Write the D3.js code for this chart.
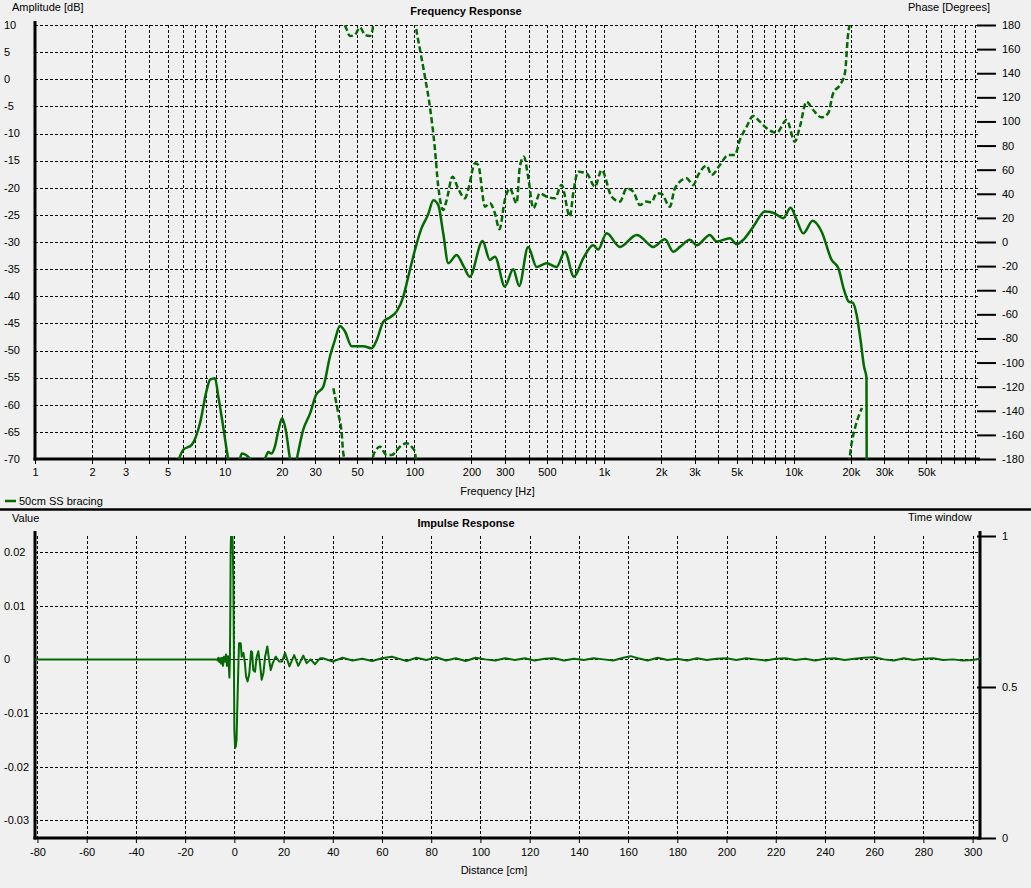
<!DOCTYPE html>
<html><head><meta charset="utf-8">
<script src="https://cdn.jsdelivr.net/npm/d3@7"></script>
<style>
body{margin:0;background:#f0f0f0;}
svg{display:block;font-family:"Liberation Sans",Arial,sans-serif;font-size:11px;}
</style></head><body>
<svg id="c" width="1031" height="888"></svg>
<script>
// ---------------- DATA ----------------
const freqTickValues = [1,2,3,5,10,20,30,50,100,200,300,500,1000,2000,3000,5000,10000,20000,30000,50000];
const freqTickLabels = ["1","2","3","5","10","20","30","50","100","200","300","500","1k","2k","3k","5k","10k","20k","30k","50k"];
const gridDecades = [1,10,100,1000,10000];
const gridMantissas = [1,2,3,4,5,6,7,8,9];
const ampTicks = [10,5,0,-5,-10,-15,-20,-25,-30,-35,-40,-45,-50,-55,-60,-65,-70];
const phaseTicks = [180,160,140,120,100,80,60,40,20,0,-20,-40,-60,-80,-100,-120,-140,-160,-180];

const ampFreq = [5.74,6.05,6.7,7.41,8.04,8.37,8.89,9.26,9.76,10.45,11.2,11.8,12.3,13.0,13.6,14.8,16.3,17.0,17.6,18.4,19.2,20.1,21.0,22.1,23.0,24.0,25.9,28.2,30.3,33.1,35.9,38.1,40.5,43.1,46.7,53.8,59.6,63.3,68.6,74.3,80.7,87.4,92.9,100.7,109,118,126,133.7,142,151,167,182,196,229,250,266,300,332,357,398,441,498,562,622,694,777,877,932,1032,1213,1486,1546,1650,1817,2096,2317,2513,2838,3077,3615,3923,4612,5000,5420,6115,7047,7798,8805,9634,10360,11230,12590,14040,15850,17180,18410,19500,20500,21500,22500,23500,24200,24300];
const ampDb = [-70,-68.3,-67.4,-63.4,-57.3,-55.4,-55.1,-58.5,-63.4,-70,-73,-71.5,-69,-69.3,-70,-74,-70,-68.7,-69,-67.7,-64.7,-62.5,-64.7,-70,-73,-70,-64.7,-61.6,-58.2,-56.7,-51.1,-48.1,-45.5,-46.5,-49.2,-49.2,-49.6,-48.1,-44.7,-43.9,-42.8,-40.1,-36.4,-31.5,-27.5,-25,-22.3,-23.2,-28.4,-33.9,-32.4,-34.5,-36.4,-29.8,-33.3,-32.7,-38.2,-35,-38.1,-30.9,-34.6,-33.9,-34.6,-31.8,-36.4,-33,-30.6,-31.4,-28.4,-30.9,-28.7,-28.9,-29.8,-30.9,-29.5,-31.8,-30.9,-29.6,-30.6,-28.7,-29.9,-29.3,-30.4,-29.6,-27.2,-24.4,-24.6,-25.6,-23.7,-25.9,-28.4,-26.1,-28.1,-33.3,-34.8,-38.8,-41,-41.2,-43.5,-48,-53,-55,-80];

const phaseFreq = [37.4,38.5,39.7,41.4,42.2,44,45.7,48.5,51.7,55,58.3,60.3,60.8,65.9,71.4,75.9,83.9,91,97,100.7,102,107,113.7,120.8,128,133.7,142,148,159,170,185,192,209,217,236,250,266,281,300,319,346,360,378,398,424,459,498,551,597,661,688,731,809,896,971,1096,1213,1315,1426,1546,1661,1782,1893,2012,2225,2364,2724,2952,3137,3475,3692,4083,4517,4898,5200,5645,6115,6637,7200,8131,9180,10140,10780,11690,12670,14040,15200,16150,17520,18620,19380,19630,20200,21000,22900];
const phaseDeg = [-121.4,-131,-142.1,-158.7,-175.3,176.4,170.9,171.7,178,171.7,170.9,176.4,-176.7,-169.8,-176.7,-176.7,-169.8,-167,-170,-174,178.6,160,137.1,112.2,79.1,45.9,26.5,34.8,54.2,44.5,36.3,43.1,65.3,63.9,29.3,32.1,23.8,10.5,34.8,44.5,32.1,62.5,70.8,54.2,28,40.4,37.6,36.3,47.3,21,40.4,58.3,57,45.9,59.7,37.6,33.5,44.5,41.7,30.7,33.5,33,40.4,39.8,29.3,44.5,52.8,47.3,55.6,63.3,55.6,63.9,72.2,72.2,84.6,95.6,104.5,99.8,94.3,90.7,101.2,83.2,95.6,116.4,109.5,103.4,106.8,123.4,130.2,139.9,173.1,178.6,-167,-155,-137.7];

const distTicks = [-80,-60,-40,-20,0,20,40,60,80,100,120,140,160,180,200,220,240,260,280,300];
const valueTicks = [0.02,0.01,0,-0.01,-0.02,-0.03];
const valueTickLabels = ["0.02","0.01","0","-0.01","-0.02","-0.03"];
const windowTicks = [1,0.5,0];
const windowTickLabels = ["1","0.5","0"];

const impDist = [-81,-7.2,-6.8,-6.5,-6.1,-5.8,-5.4,-5.0,-4.6,-4.2,-3.8,-3.4,-3.0,-2.6,-2.3,-2.0,-1.8,-1.65,-1.5,-1.2,-0.9,-0.6,-0.4,-0.2,0.0,0.3,0.6,0.9,1.2,1.6,1.9,2.6,3.0,3.7,4.3,4.75,5.4,6.1,6.8,7.2,7.7,8.4,9.1,9.75,10.4,11.1,11.8,12.5,13.4,14.1,14.8,15.6,16.8,18.2,19.4,20.6,22.4,24.3,26,28,29.4,31,32.8,34.8,36,40,44,48,52,56,60,64,67,70,74,78,82,86,90,94,98,102,106,110,114,118,122,126,130,134,138,142,146,150,154,158,161,164,168,172,176,180,184,188,192,196,200,204,208,212,216,220,224,228,232,236,240,244,248,252,256,260,264,268,272,276,280,284,288,292,296,300,303];
const impVal = [0,0,-0.0002,0.0003,-0.0005,0.0002,-0.0008,0.0003,-0.0012,0.0005,-0.0004,0.0009,-0.0012,0.0006,-0.0006,-0.0034,0.0002,0.0083,0.0201,0.0255,0.0255,0.0200,0.0148,0.0030,-0.0131,-0.0165,-0.0162,-0.0150,-0.0091,-0.002,0.003,0.003,0.0005,0.0012,-0.0007,-0.0032,-0.0041,-0.0026,0.0015,0.0014,-0.002,-0.0023,0.0005,0.0015,-0.0007,-0.0038,-0.0026,0.0005,0.0024,0,-0.002,-0.0007,0.0005,-0.0004,-0.0004,0.0012,-0.0013,0.0008,-0.0012,0.0007,-0.0007,0,-0.0009,0.0002,0.0002,-0.0004,0.0003,-0.0002,0.0001,-0.0003,0.0002,0.0005,0.0001,-0.0003,0.0003,-0.0001,0.0004,-0.0002,0.0002,-0.0003,0.0003,0,-0.0002,0.0002,-0.0001,0.0002,-0.0002,0.0001,0.0002,-0.0002,0.0001,-0.0001,0.0002,0,-0.0002,0.0003,0.0006,0.0002,-0.0002,0.0003,-0.0001,0.0001,-0.0002,0.0002,-0.0001,0.0001,0.0002,-0.0001,0.0002,0,-0.0002,0.0001,0.0002,-0.0001,0.0001,-0.0002,0.0001,0.0002,-0.0001,0.0001,0.0003,0.0004,0,-0.0002,0.0002,-0.0001,0.0001,0.0002,-0.0001,0,-0.0002,-0.0001,0.0001];

// ---------------- CHART ----------------
const GREEN = "#006a00";
const svg = d3.select("#c");
const PL = 35, PR = 980;
const TT = 25, TB = 459;
const BT = 536, BB = 838;

const x = d3.scaleLog().domain([1, 96000]).range([PL, PR]);
const yA = d3.scaleLinear().domain([-70, 10]).range([TB, TT]);
const yP = d3.scaleLinear().domain([-180, 180]).range([TB, TT]);

const defs = svg.append("defs");
defs.append("clipPath").attr("id","clipTop").append("rect").attr("x",PL).attr("y",TT).attr("width",PR-PL).attr("height",TB-TT);
defs.append("clipPath").attr("id","clipBot").append("rect").attr("x",PL).attr("y",BT).attr("width",PR-PL).attr("height",BB-BT);

const px = v => Math.round(v) + 0.5;

// grid top
const gridFreqs = [];
gridDecades.forEach(d => gridMantissas.forEach(m => gridFreqs.push(d*m)));
const gTop = svg.append("g").attr("stroke","#000").attr("stroke-width",1).attr("stroke-dasharray","3,2").attr("shape-rendering","crispEdges");
gTop.selectAll("line.v").data(gridFreqs.filter(f => f > 1)).join("line").attr("class","v")
  .attr("x1", d => px(x(d))).attr("x2", d => px(x(d))).attr("y1", TT).attr("y2", TB);
gTop.selectAll("line.h").data(ampTicks.filter(t => t > -70)).join("line").attr("class","h")
  .attr("x1", PL).attr("x2", PR).attr("y1", d => px(yA(d))).attr("y2", d => px(yA(d)));

// axes top
svg.append("line").attr("x1",PL).attr("x2",PL).attr("y1",21).attr("y2",TB+1.5).attr("stroke","#000").attr("stroke-width",3);
svg.append("line").attr("x1",PL-1.5).attr("x2",PR).attr("y1",TB).attr("y2",TB).attr("stroke","#000").attr("stroke-width",3);

const labelMap = new Map(freqTickValues.map((v,i) => [v, freqTickLabels[i]]));
const xAxis = d3.axisBottom(x).tickValues(gridFreqs).tickSize(4).tickPadding(4).tickFormat(d => labelMap.get(d) || "");
const gx = svg.append("g").attr("transform",`translate(0,${TB+1})`).call(xAxis);
gx.select(".domain").remove();
gx.selectAll("text").attr("font-size",11).attr("font-family","Liberation Sans, Arial, sans-serif").attr("fill","#000");
gx.selectAll("line").attr("shape-rendering","crispEdges");

// left amplitude labels
svg.append("g").selectAll("text").data(ampTicks).join("text")
  .attr("x",4).attr("y", d => yA(d)).attr("dy","0.35em").text(d => String(d));

// right phase axis
const pAxis = d3.axisRight(yP).tickValues(phaseTicks).tickSize(19).tickPadding(6).tickFormat(d => String(d));
const gp = svg.append("g").attr("transform","translate(977,0)").call(pAxis);
gp.select(".domain").remove();
gp.selectAll("line").attr("stroke-width",2).attr("stroke","#000");
gp.selectAll("text").attr("font-size",11).attr("font-family","Liberation Sans, Arial, sans-serif").attr("fill","#000");

// amplitude curve
const ampData = ampFreq.map((f,i) => [f, ampDb[i]]);
const lineA = d3.line().x(d => x(d[0])).y(d => yA(d[1])).curve(d3.curveMonotoneX);
svg.append("path").datum(ampData).attr("clip-path","url(#clipTop)")
  .attr("d", lineA).attr("fill","none").attr("stroke",GREEN).attr("stroke-width",2.5).attr("stroke-linejoin","round");

// phase curve (unwrapped, then drawn wrapped by shifting copies)
const unwrapped = [];
phaseDeg.forEach((p,i) => {
  if (i === 0) { unwrapped.push(p); return; }
  let q = p;
  const prev = unwrapped[i-1];
  while (q - prev > 180) q -= 360;
  while (q - prev < -180) q += 360;
  unwrapped.push(q);
});
const phaseData = phaseFreq.map((f,i) => [f, unwrapped[i]]);
const gPh = svg.append("g").attr("clip-path","url(#clipTop)");
[-1,0,1,2].forEach(k => {
  const lineP = d3.line().x(d => x(d[0])).y(d => yP(d[1] + 360*k)).curve(d3.curveMonotoneX);
  gPh.append("path").datum(phaseData).attr("d", lineP).attr("fill","none")
    .attr("stroke",GREEN).attr("stroke-width",2.5).attr("stroke-dasharray","6,3");
});

// top texts
svg.append("text").attr("x",12).attr("y",11).text("Amplitude [dB]");
svg.append("text").attr("x",908).attr("y",11).text("Phase [Degrees]");
svg.append("text").attr("x",466).attr("y",15).attr("text-anchor","middle").attr("font-weight","bold").text("Frequency Response");
svg.append("text").attr("x",497.5).attr("y",495).attr("text-anchor","middle").text("Frequency [Hz]");

// legend
svg.append("line").attr("x1",5).attr("x2",16).attr("y1",501).attr("y2",501).attr("stroke",GREEN).attr("stroke-width",2.5);
svg.append("text").attr("x",19).attr("y",505).text("50cm SS bracing");

// separator
svg.append("line").attr("x1",0).attr("x2",1031).attr("y1",509.5).attr("y2",509.5).attr("stroke","#000").attr("stroke-width",2.5);

// ---------------- IMPULSE ----------------
const xD = d3.scaleLinear().domain([-81, 303]).range([PL, PR]);
const yV = d3.scaleLinear().domain([-0.0333, 0.0230]).range([BB, BT]);
const yW = d3.scaleLinear().domain([0, 1]).range([BB, BT]);

const gBot = svg.append("g").attr("stroke","#000").attr("stroke-width",1).attr("stroke-dasharray","3,2").attr("shape-rendering","crispEdges");
gBot.selectAll("line.v").data(distTicks).join("line").attr("class","v")
  .attr("x1", d => px(xD(d))).attr("x2", d => px(xD(d))).attr("y1", BT).attr("y2", BB);
gBot.selectAll("line.h").data(valueTicks).join("line").attr("class","h")
  .attr("x1", PL).attr("x2", PR).attr("y1", d => px(yV(d))).attr("y2", d => px(yV(d)));

svg.append("line").attr("x1",PL).attr("x2",PL).attr("y1",531).attr("y2",BB+1.5).attr("stroke","#000").attr("stroke-width",3);
svg.append("line").attr("x1",PR).attr("x2",PR).attr("y1",531).attr("y2",BB+1.5).attr("stroke","#000").attr("stroke-width",3);
svg.append("line").attr("x1",PL-1.5).attr("x2",PR).attr("y1",BB).attr("y2",BB).attr("stroke","#000").attr("stroke-width",3);

const dAxis = d3.axisBottom(xD).tickValues(distTicks).tickSize(4).tickPadding(5).tickFormat(d => String(d));
const gd = svg.append("g").attr("transform",`translate(0,${BB+1})`).call(dAxis);
gd.select(".domain").remove();
gd.selectAll("text").attr("font-size",11).attr("font-family","Liberation Sans, Arial, sans-serif").attr("fill","#000");

svg.append("g").selectAll("text").data(valueTicks).join("text")
  .attr("x",4).attr("y", d => yV(d)).attr("dy","0.35em").text((d,i) => valueTickLabels[i]);

const wAxis = d3.axisRight(yW).tickValues(windowTicks).tickSize(19).tickPadding(6).tickFormat((d,i) => windowTickLabels[i]);
const gw = svg.append("g").attr("transform","translate(977,0)").call(wAxis);
gw.select(".domain").remove();
gw.selectAll("line").attr("stroke-width",2).attr("stroke","#000");
gw.selectAll("text").attr("font-size",11).attr("font-family","Liberation Sans, Arial, sans-serif").attr("fill","#000");

const impData = impDist.map((d,i) => [d, impVal[i]]);
const lineI = d3.line().x(d => xD(d[0])).y(d => yV(d[1]));
svg.append("path").datum(impData).attr("clip-path","url(#clipBot)")
  .attr("d", lineI).attr("fill","none").attr("stroke",GREEN).attr("stroke-width",2).attr("stroke-linejoin","round");

svg.append("text").attr("x",12).attr("y",522).text("Value");
svg.append("text").attr("x",908).attr("y",521).text("Time window");
svg.append("text").attr("x",466).attr("y",527).attr("text-anchor","middle").attr("font-weight","bold").text("Impulse Response");
svg.append("text").attr("x",494).attr("y",874).attr("text-anchor","middle").text("Distance [cm]");
</script>
</body></html>
